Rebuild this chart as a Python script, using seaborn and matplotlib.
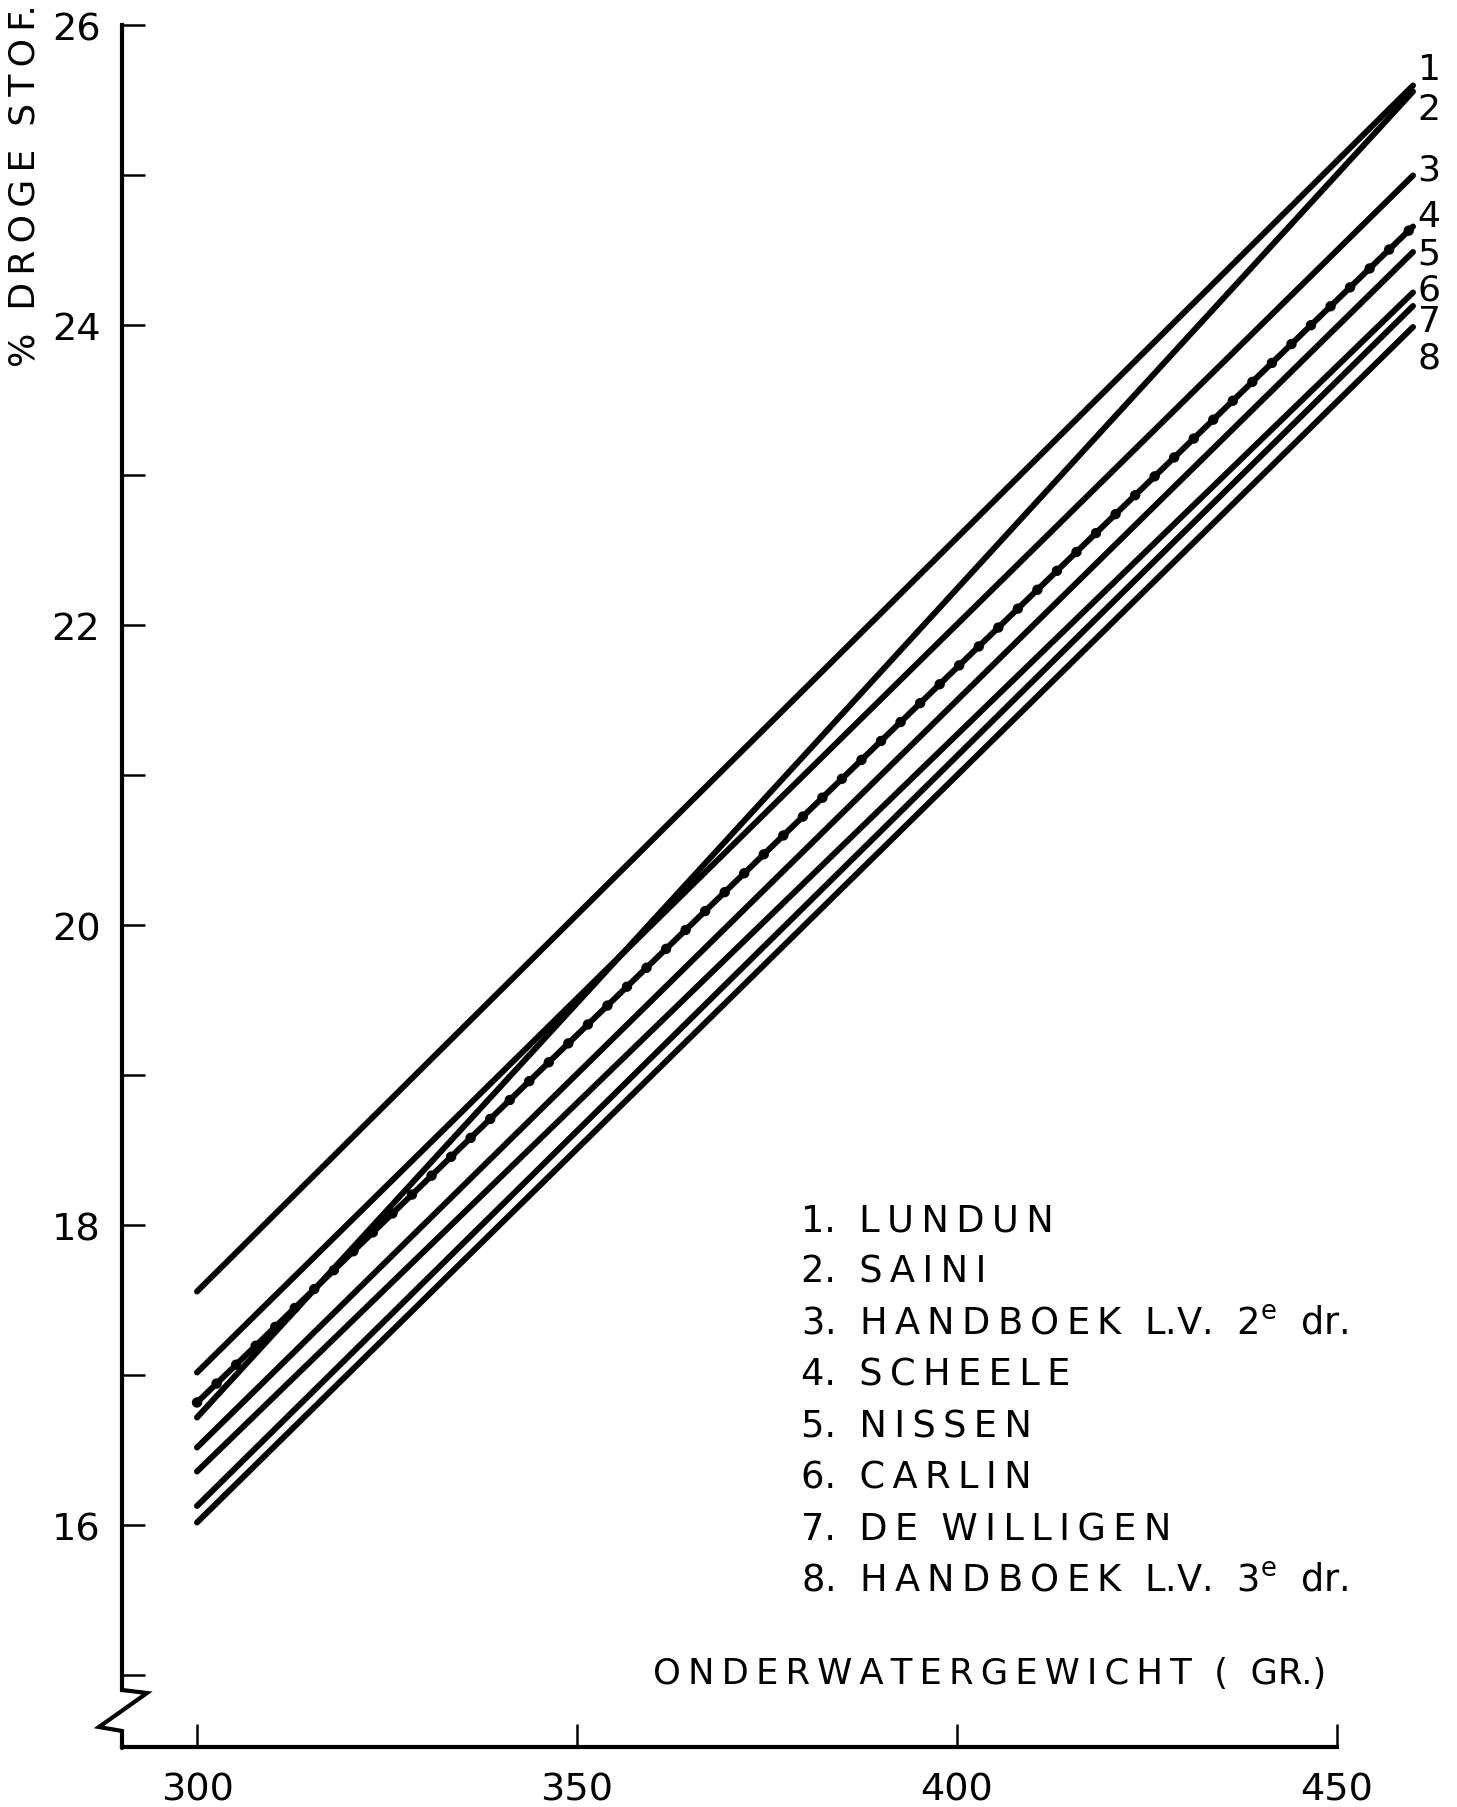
import re
import numpy as np
import pandas as pd
import matplotlib
matplotlib.use("Agg")
import matplotlib.pyplot as plt
from matplotlib.ticker import NullLocator
import seaborn as sns

# ---------------- data ----------------
line_numbers = [1, 2, 3, 4, 5, 6, 7, 8]
line_names = ["LUNDUN", "SAINI", "HANDBOEK L.V. 2e dr.", "SCHEELE", "NISSEN",
              "CARLIN", "DE WILLIGEN", "HANDBOEK L.V. 3e dr."]
x_ends = [300, 460]                       # onderwatergewicht at both line ends
y_at_300 = [17.56, 16.72, 17.02, 16.82, 16.52, 16.36, 16.13, 16.02]
y_at_460 = [25.60, 25.56, 25.00, 24.66, 24.49, 24.22, 24.13, 23.99]
dotted_line = 4                           # SCHEELE is drawn as a beaded line
x_ticks = [300, 350, 400, 450]
y_major_ticks = [16, 18, 20, 22, 24, 26]
y_minor_ticks = [15, 17, 19, 21, 23, 25]
y_label = "% DROGE STOF."
x_label = "ONDERWATERGEWICHT ( GR.)"

# ---------------- style ----------------
sns.set_style("ticks")
plt.rcParams["font.family"] = ["DejaVu Sans"]
plt.rcParams["mathtext.fontset"] = "dejavusans"
plt.rcParams["text.color"] = "black"

W, H = 1457, 1808
fig = plt.figure(figsize=(W / 100, H / 100), dpi=100)
fig.patch.set_facecolor("white")
ax = fig.add_axes([0, 0, 1, 1])
ax.set_facecolor("white")

# layout helpers: figure pixel (from top-left) -> data coordinates
X0_PX, X_SCALE = 197.0, 7.6
Y0_PX, Y_SCALE = 26.5, 150.0


def px2x(p):
    return 300 + (p - X0_PX) / X_SCALE


def px2y(p):
    return 26 - (p - Y0_PX) / Y_SCALE


THIN = "\u2009"


def styled(text, join="  "):
    out = []
    for w in text.split(" "):
        m = re.fullmatch(r"([A-Z]+)(\.?)", w)
        if m:
            out.append(THIN.join(m.group(1)) + m.group(2))
        elif re.fullmatch(r"\de", w):
            out.append(w[0] + r"$^{\mathrm{e}}$")
        else:
            out.append(w)
    return join.join(out)


# ---------------- lines ----------------
rows = []
for n, a, b in zip(line_numbers, y_at_300, y_at_460):
    rows.append({"line": str(n), "x": x_ends[0], "y": a})
    rows.append({"line": str(n), "x": x_ends[1], "y": b})
df = pd.DataFrame(rows)

palette = {str(n): "black" for n in line_numbers}
sns.lineplot(data=df, x="x", y="y", hue="line", palette=palette,
             estimator=None, sort=False, legend=False,
             linewidth=4.3, solid_capstyle="round", ax=ax)

# beads on line 4
sns.lineplot(data=df[df["line"] == str(dotted_line)], x="x", y="y",
             color="black", estimator=None, sort=False, legend=False,
             linewidth=7.5, linestyle=(0, (0.01, 2.6)),
             dash_capstyle="round", ax=ax)

ax.set_xlabel("")
ax.set_ylabel("")
ax.set_xlim(px2x(0), px2x(W))
ax.set_ylim(px2y(H), px2y(0))

# ---------------- axes ----------------
for s in ["top", "right"]:
    ax.spines[s].set_visible(False)
ax.spines["left"].set_position(("data", px2x(122)))
ax.spines["left"].set_bounds(px2y(1691), 26)
ax.spines["bottom"].set_position(("data", px2y(1748)))
ax.spines["bottom"].set_bounds(px2x(122), 450)
for s in ["left", "bottom"]:
    ax.spines[s].set_linewidth(3.0)
    ax.spines[s].set_color("black")

# axis break zigzag
zz_px = [(122, 1691), (147, 1694), (99, 1728), (122, 1732), (122, 1749)]
ax.plot([px2x(p[0]) for p in zz_px], [px2y(p[1]) for p in zz_px],
        color="black", lw=3.0, clip_on=False, solid_joinstyle="miter")

ax.set_xticks(x_ticks)
ax.set_xticklabels([str(v) for v in x_ticks])
ax.set_yticks(y_major_ticks)
ax.set_yticklabels([str(v) for v in y_major_ticks])
ax.set_yticks(y_minor_ticks, minor=True)
ax.xaxis.set_minor_locator(NullLocator())
ax.tick_params(which="both", direction="in", length=16.5, width=1.8,
               color="black", labelcolor="black")
ax.tick_params(axis="y", which="major", labelsize=27.5, pad=15.5)
ax.tick_params(axis="x", which="major", labelsize=27.5, pad=18)

# ---------------- texts ----------------
# legend list
for i, (n, name) in enumerate(zip(line_numbers, line_names)):
    ax.text(px2x(801), px2y(1218 + 51.5 * i + 13.5), f"{n}.  " + styled(name),
            fontsize=26.5, ha="left", va="baseline")

# numbers at the line ends
end_label_px = [67, 107, 167, 214, 251, 287, 319, 355]
for n, p in zip(line_numbers, end_label_px):
    ax.text(px2x(1429), px2y(p + 13.5), str(n), fontsize=26,
            ha="center", va="baseline")

# axis titles
ax.text(px2x(1326), px2y(1671 + 13), styled(x_label), fontsize=25.5,
        ha="right", va="baseline")
ax.text(px2x(25), px2y(367), styled(y_label, join="  "), rotation=90,
        fontsize=26, ha="center", va="bottom")

fig.savefig("out.png", dpi=100, facecolor="white")
